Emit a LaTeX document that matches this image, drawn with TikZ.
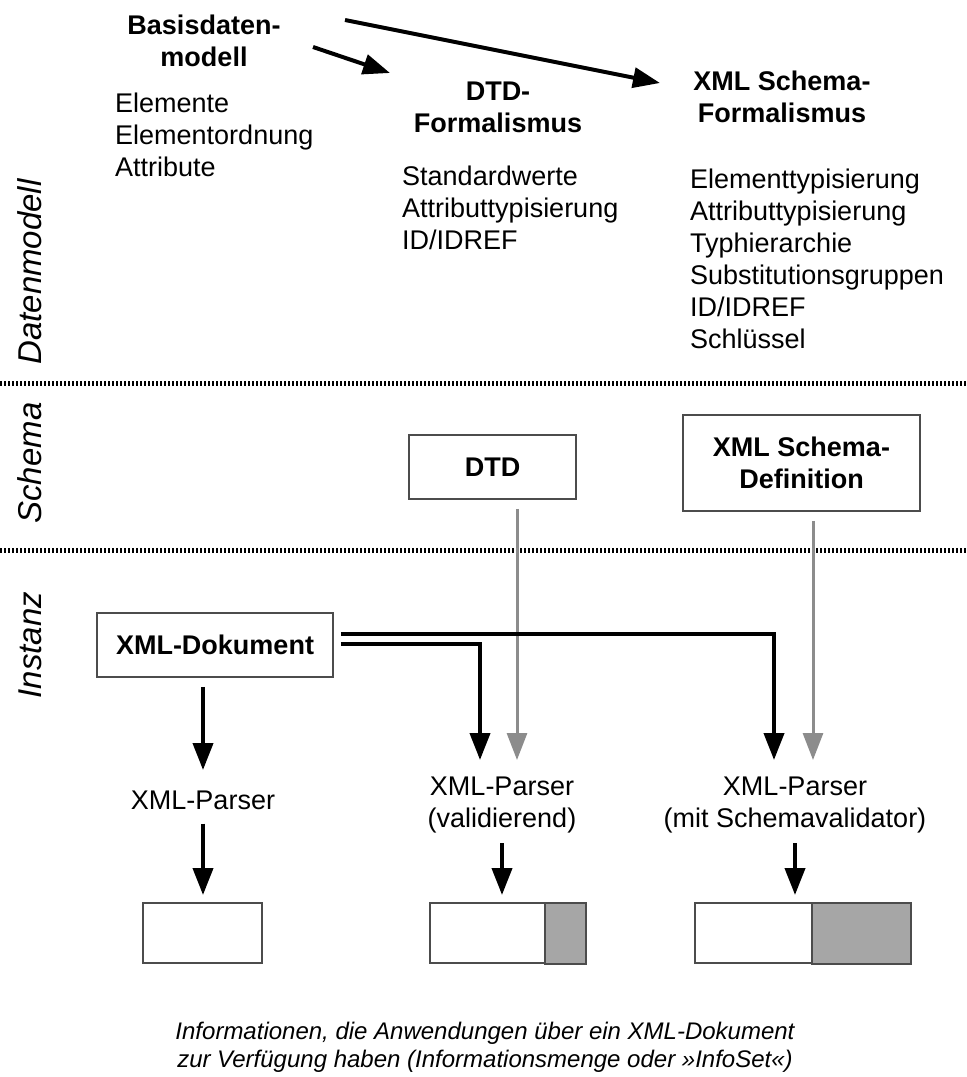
\documentclass[tikz,border=0pt]{standalone}
\usepackage{fontspec}
\setmainfont{Liberation Sans}
\usetikzlibrary{arrows.meta,positioning}
\newcommand\diafont{\fontsize{27}{32}\selectfont}
\newcommand\capfont{\fontsize{24}{28}\selectfont\itshape}
\tikzset{
    result shade/.style={fill=black!35},
    titletext/.style={font=\diafont\bfseries,align=center,inner sep=0pt},
    listtext/.style={font=\diafont,align=left,anchor=west,inner sep=0pt},
    parsertext/.style={font=\diafont,align=center,inner sep=0pt},
    boxnode/.style={draw=black!70,line width=1.5pt,font=\diafont\bfseries,align=center,inner sep=0pt},
    resultbox/.style={draw=black!70,line width=1.5pt,inner sep=0pt,minimum height=60pt},
    layertext/.style={font=\fontsize{33}{38}\selectfont\itshape,rotate=90,inner sep=0pt},
    sepline/.style={line width=5pt,dash pattern=on 2pt off 2pt},
    arr/.style={-{Triangle[length=27pt,width=20pt]},line width=4pt},
    grayarr/.style={arr,color=black!45,line width=3pt},
}
\begin{document}
\begin{tikzpicture}[x=1pt,y=-1pt]
    \useasboundingbox (0,0) rectangle (967,1077);

    % Datenmodell
    \node[titletext] (basis) at (204,41) {Basisdaten-\\modell};
    \node[listtext] (basislist) at (115,135) {Elemente\\Elementordnung\\Attribute};
    \node[titletext] (dtdform) at (498,107) {DTD-\\Formalismus};
    \node[listtext] (dtdlist) at (402,208) {Standardwerte\\Attributtypisierung\\ID/IDREF};
    \node[titletext] (xsdform) at (782,97) {XML Schema-\\Formalismus};
    \node[listtext] (xsdlist) at (690,259) {Elementtypisierung\\Attributtypisierung\\Typhierarchie\\Substitutionsgruppen\\ID/IDREF\\Schl\"ussel};
    \coordinate (a1) at (313,47);
    \coordinate (a2) at (390,73);
    \coordinate (b1) at (345,20);
    \coordinate (b2) at (660,83);
    \draw[arr] (a1) -- (a2);
    \draw[arr] (b1) -- (b2);

    % Ebenen
    \draw[sepline] (0,383) -- (967,383);
    \draw[sepline] (0,550) -- (967,550);
    \node[layertext] (ldaten) at (30,272) {Datenmodell};
    \node[layertext] (lschema) at (30,463) {Schema};
    \node[layertext] (linstanz) at (30,645) {Instanz};

    % Schema
    \node[boxnode,minimum width=167pt,minimum height=64pt] (dtd) at (492.5,467) {DTD};
    \node[boxnode,minimum width=237pt,minimum height=96pt] (xsd) at (801.5,463) {XML Schema-\\Definition};

    % Instanz
    \node[boxnode,minimum width=236pt,minimum height=64pt] (doc) at (215,645) {XML-Dokument};
    \node[parsertext] (p1) at (203,800) {XML-Parser};
    \node[parsertext] (p2) at (502,805) {XML-Parser\\(validierend)};
    \node[parsertext] (p3) at (795,805) {XML-Parser\\(mit Schemavalidator)};

    \node[resultbox,minimum width=119pt] (r1) at (202.5,933) {};
    \node[resultbox,minimum width=155pt] (r2) at (507.5,933) {};
    \node[resultbox,minimum width=215pt] (r3) at (802.5,933) {};
    \draw[result shade,draw=black!70,line width=1.5pt] (545,903) rectangle (r2.south east);
    \draw[result shade,draw=black!70,line width=1.5pt] (812,903) rectangle (r3.south east);

    \coordinate (t2) at (480,760);
    \coordinate (t3) at (774,760);
    \draw[grayarr] ([yshift=-9pt]dtd.south -| 517,0) -- (517,760);
    \draw[grayarr] ([yshift=-9pt]xsd.south -| 813,0) -- (813,760);
    \draw[arr] ([xshift=7pt,yshift=11pt]doc.east) -- (t3 |- 0,634) -- (t3);
    \draw[arr] ([xshift=7pt,yshift=1pt]doc.east) -- (t2 |- 0,644) -- (t2);
    \draw[arr] ([yshift=-9pt]doc.south -| 203,0) -- (203,770);

    \draw[arr,shorten <=14pt] (p1.south) -- (p1.south |- 0,895);
    \draw[arr,shorten <=10pt] (p2.south) -- (p2.south |- 0,895);
    \draw[arr,shorten <=10pt] (p3.south) -- (p3.south |- 0,895);

    \node[font=\capfont,align=center,inner sep=0pt] (caption) at (485,1047)
    {Informationen, die Anwendungen \"uber ein XML-Dokument\\zur Verf\"ugung haben (Informationsmenge oder \guillemotright InfoSet\guillemotleft)};
\end{tikzpicture}
\end{document}
